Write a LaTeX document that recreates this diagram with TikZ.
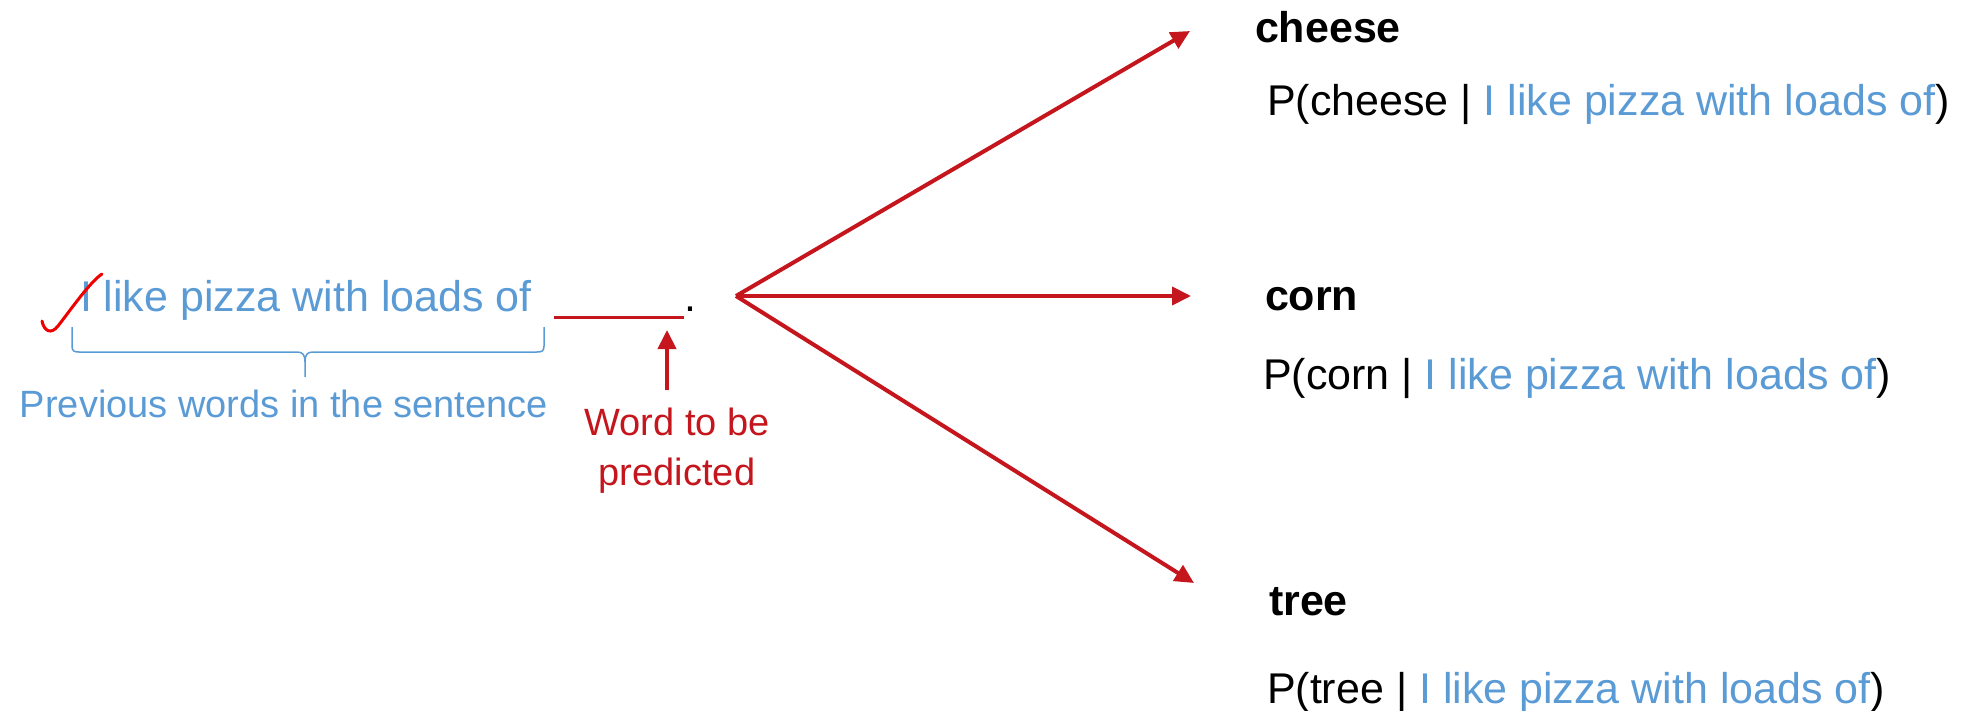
\documentclass[tikz,border=0pt]{standalone}
\usepackage{fontspec}
\setmainfont{Liberation Sans}
\usetikzlibrary{arrows.meta}
\definecolor{wordblue}{RGB}{91,155,213}
\definecolor{darkred}{RGB}{196,22,28}
\definecolor{tickred}{RGB}{238,0,0}
\begin{document}
\begin{tikzpicture}[x=0.5pt,y=-0.5pt,
  every node/.style={inner sep=0pt, outer sep=0pt},
  sent/.style={font=\fontsize{21.5}{26}\selectfont, anchor=base west},
  cand/.style={font=\fontsize{21.5}{26}\selectfont\bfseries, anchor=base west},
  note/.style={font=\fontsize{19}{25}\selectfont},
  branch/.style={draw=darkred, line width=2pt, -{Triangle[length=9.5pt,width=9pt]}},
]
\useasboundingbox (0,0) rectangle (1975,711);

% the sentence with its blank
\node[sent, text=wordblue] (context) at (80,312) {I like pizza with loads of};
\coordinate (blankL) at (554,317);
\coordinate (blankR) at (684,317);
\draw[darkred, line width=1.5pt] (blankL) -- (blankR);
\node[sent] (stop) at (684,312) {.};

% hand-drawn tick over the first word
\draw[tickred, line width=1.5pt, line cap=round]
  (42,321) .. controls (44,331) and (51,335) .. (58,326)
  .. controls (72,308) and (90,282) .. (102,274);

% brace under the context words
\draw[wordblue, line width=0.75pt]
  (72,327) -- (72,346) .. controls (72,351) and (74,352) .. (79,352)
  -- (297,352) .. controls (303,352) and (305,355) .. (305,362) -- (305,377)
  (305,362) .. controls (305,355) and (307,352) .. (313,352)
  -- (537,352) .. controls (542,352) and (544,351) .. (544,346) -- (544,327);
\node[note, text=wordblue, anchor=base] (prevlabel) at (284,417) {Previous words in the sentence};

% pointer to the missing word
\coordinate (predBase) at (667,390);
\coordinate (predTip) at (667,330);
\draw[branch] (predBase) -- (predTip);
\node[note, text=darkred, align=center, anchor=base] (predicted) at (677,485) {Word to be\\predicted};

% branches to the candidate words
\coordinate (hub) at (736,296);
\coordinate (tipA) at (1190,31);
\coordinate (tipB) at (1191,296);
\coordinate (tipC) at (1194,583);
\draw[branch] (hub) -- (tipA);
\draw[branch] (hub) -- (tipB);
\draw[branch] (hub) -- (tipC);

% candidates and their conditional probabilities
\node[cand] (cheese) at (1255,43) {cheese};
\node[sent] (pcheese) at (1267,116) {P(cheese | \textcolor{wordblue}{I like pizza with loads of})};
\node[cand] (corn) at (1265,310) {corn};
\node[sent] (pcorn) at (1263,389) {P(corn | \textcolor{wordblue}{I like pizza with loads of})};
\node[cand] (tree) at (1269,615) {tree};
\node[sent] (ptree) at (1267,703) {P(tree | \textcolor{wordblue}{I like pizza with loads of})};
\end{tikzpicture}
\end{document}
